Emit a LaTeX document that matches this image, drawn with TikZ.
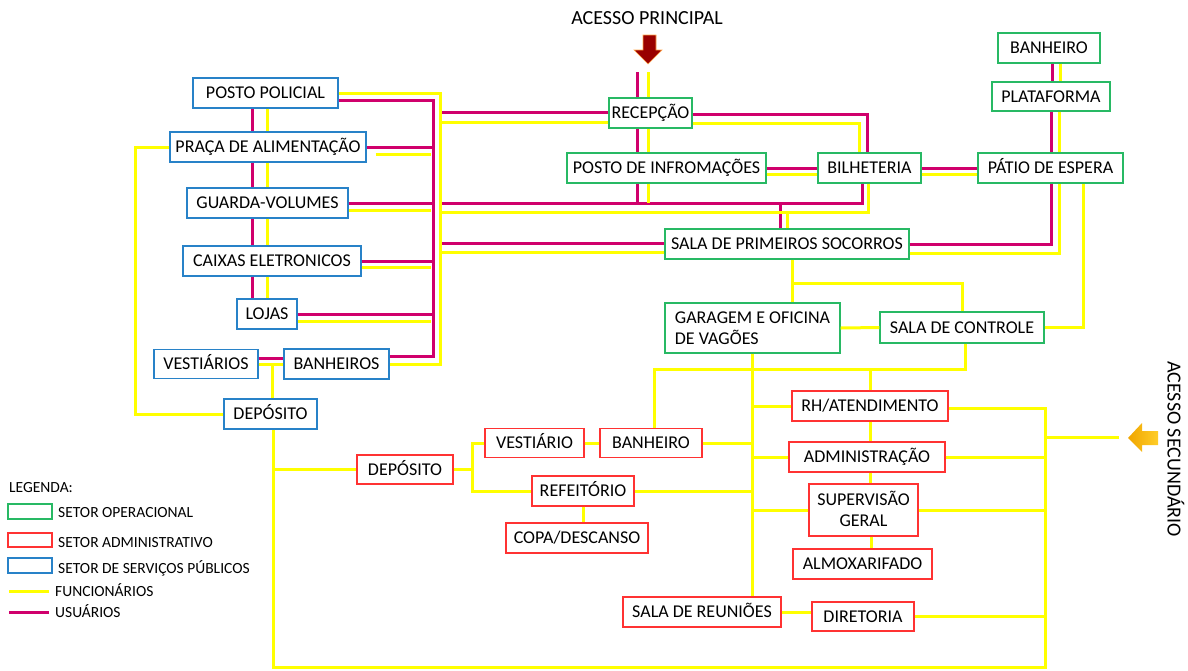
\documentclass[tikz,border=0pt]{standalone}
\usepackage{fontspec}
\setmainfont{Carlito}
\usepackage{xcolor}

\definecolor{usrmag}{RGB}{208,0,108}
\definecolor{funyel}{RGB}{255,255,0}
\definecolor{opgreen}{RGB}{40,185,100}
\definecolor{admred}{RGB}{255,50,50}
\definecolor{pubblue}{RGB}{40,130,200}
\definecolor{acc1col}{RGB}{153,0,0}
\definecolor{acc2a}{RGB}{240,165,0}
\definecolor{acc2b}{RGB}{255,205,40}

\begin{document}
\begin{tikzpicture}[x=1pt, y=-1pt,
    box/.style={draw, line width=1.3pt, inner sep=0pt, minimum height=30pt,
      text height=11.6pt, text depth=0pt, font=\fontsize{18}{21}\selectfont},
    op/.style={box, draw=opgreen},
    adm/.style={box, draw=admred},
    pub/.style={box, draw=pubblue},
    usr/.style={usrmag, line width=3pt},
    fun/.style={funyel, line width=3pt},
    legtxt/.style={anchor=west, inner sep=0pt, text height=10pt, text depth=0pt,
      font=\fontsize{15.5}{18}\selectfont}]
    \useasboundingbox (0,0) rectangle (1188,670);

    % servicos publicos
    \node[pub, minimum width=145pt] (pol) at (265.5,93) {POSTO POLICIAL};
    \node[pub, minimum width=196pt] (praca) at (268,147) {PRAÇA DE ALIMENTAÇÃO};
    \node[pub, minimum width=161pt] (guarda) at (267.5,203) {GUARDA-VOLUMES};
    \node[pub, minimum width=178pt] (caixas) at (272,261) {CAIXAS ELETRONICOS};
    \node[pub, minimum width=60pt] (lojas) at (267,314) {LOJAS};
    \node[pub, minimum width=104pt, minimum height=29pt] (vest) at (206,364) {VESTIÁRIOS};
    \node[pub, minimum width=105pt] (banh) at (336.5,364) {BANHEIROS};
    \node[pub, minimum width=93pt] (depb) at (270.5,414) {DEPÓSITO};

    % operacional
    \node[op, minimum width=83pt] (recep) at (650.5,113) {RECEPÇÃO};
    \node[op, minimum width=199pt] (info) at (666.5,168) {POSTO DE INFROMAÇÕES};
    \node[op, minimum width=103pt] (bilh) at (869.5,168) {BILHETERIA};
    \node[op, minimum width=145pt] (patio) at (1050.5,168) {PÁTIO DE ESPERA};
    \node[op, minimum width=118pt, minimum height=29pt] (plat) at (1051,96.5) {PLATAFORMA};
    \node[op, minimum width=102pt] (banhg) at (1049,48) {BANHEIRO};
    \node[op, minimum width=244pt] (sps) at (787,244) {SALA DE PRIMEIROS SOCORROS};
    \node[op, minimum width=175pt, minimum height=50pt, align=left, text height=32.6pt] (gar) at (752.5,328) {GARAGEM E OFICINA\\DE VAGÕES};
    \node[op, minimum width=164pt, minimum height=31pt] (ctrl) at (962,327.5) {SALA DE CONTROLE};

    % administrativo
    \node[adm, minimum width=156pt] (rh) at (870,406) {RH/ATENDIMENTO};
    \node[adm, minimum width=156pt] (admin) at (867,457) {ADMINISTRAÇÃO};
    \node[adm, minimum width=109pt, minimum height=52pt, align=center, text height=32.6pt] (sup) at (863.5,510) {SUPERVISÃO\\GERAL};
    \node[adm, minimum width=139pt] (alm) at (862.5,564) {ALMOXARIFADO};
    \node[adm, minimum width=102pt, minimum height=29pt] (dir) at (863,616.5) {DIRETORIA};
    \node[adm, minimum width=158pt] (reun) at (702,612) {SALA DE REUNIÕES};
    \node[adm, minimum width=102pt, minimum height=29pt] (banhr) at (651,443) {BANHEIRO};
    \node[adm, minimum width=99pt, minimum height=29pt] (vesr) at (534.5,443) {VESTIÁRIO};
    \node[adm, minimum width=96pt, minimum height=29pt] (depr) at (405,469.5) {DEPÓSITO};
    \node[adm, minimum width=102pt] (ref) at (583,491) {REFEITÓRIO};
    \node[adm, minimum width=142pt] (copa) at (577,538) {COPA/DESCANSO};

    % acessos
    \node[inner sep=0pt, text height=12.9pt, text depth=0pt, font=\fontsize{20}{24}\selectfont] (acc1) at (647,18.5) {ACESSO PRINCIPAL};
    \filldraw[fill=acc1col, draw=orange!70, line width=0.6pt] (643,35) -- (656,35) -- (656,50) -- (662,50) -- (648,64) -- (634,50) -- (643,50) -- cycle;
    \node[inner sep=0pt, text height=12.9pt, text depth=0pt, rotate=-90, font=\fontsize{20}{24}\selectfont] (acc2) at (1174,449) {ACESSO SECUNDÁRIO};
    \shade[left color=acc2a, right color=acc2b] (1128,438) -- (1142,423) -- (1142,431) -- (1158,431) -- (1158,445) -- (1142,445) -- (1142,452) -- cycle;
    \coordinate (acc2in) at (1119,437);

    % usuarios
    \draw[usr] ([yshift=-7pt]pol.east) -| (433,356) -- ([yshift=8pt]banh.east);
    \foreach \n in {praca,guarda,caixas,lojas}
      \draw[usr] (\n.east) -- (\n.east -| 433,0);
    \draw[usr] ([yshift=6pt]vest.east) -- ([yshift=6pt]banh.west);
    \draw[usr] (recep.north -| 637,0) -- ++(0,-25);
    \draw[usr] (recep.south -| 637,0) -- (info.north -| 637,0);
    \draw[usr] (info.south -| 637,0) -- (637,203);
    \draw[usr] ([yshift=1pt]recep.west) -- (442,112);
    \draw[usr] ([yshift=-1pt]recep.east) -| (bilh.north -| 867,0);
    \draw[usr] (info.east) -- (bilh.west);
    \draw[usr] (bilh.east) -- (patio.west);
    \draw[usr] (bilh.south -| 862,0) |- (442,203);
    \draw[usr] (sps.north -| 780,0) -- (780,203);
    \draw[usr] ([yshift=1pt]sps.west) -- (442,243);
    \draw[usr] (sps.east) -| (patio.south -| 1051,0);
    \draw[usr] (plat.south -| 1051,0) -- (patio.north -| 1051,0);
    \draw[usr] (banhg.south -| 1052,0) -- (plat.north -| 1052,0);

    % funcionarios
    \draw[fun] (pol.east) -| (440,364) -- (banh.east);
    \draw[fun] ([xshift=9pt,yshift=-7pt]praca.east) -- ([yshift=-7pt]praca.east -| 431,0);
    \foreach \n/\d in {guarda/7,caixas/6,lojas/7}
      \draw[fun] ([yshift=-\d pt]\n.east) -- ([yshift=-\d pt]\n.east -| 431,0);
    \foreach \a/\b in {pol/praca,praca/guarda,guarda/caixas,caixas/lojas}{
      \draw[usr] (\a.south -| 252,0) -- (\b.north -| 252,0);
      \draw[fun] (\a.south -| 267,0) -- (\b.north -| 267,0);
    }
    \draw[fun] (vest.east) -- (banh.west);
    \draw[fun] (vest.east -| 272,0) -- (depb.north -| 272,0);
    \draw[fun] (depb.west) -| (135,147) -- (praca.west);
    \draw[fun] (depb.south -| 273,0) -- (273,667) -| (1045,408) -- ([yshift=-2pt]rh.east);
    \draw[fun] (depr.west -| 273,0) -- (depr.west);
    \draw[fun] (recep.north -| 648,0) -- ++(0,-25);
    \draw[fun] (recep.south -| 648,0) -- (info.north -| 648,0);
    \draw[fun] (info.south -| 648,0) -- (648,203);
    \draw[fun] ([yshift=-9pt]recep.west) -- (440,122);
    \draw[fun] ([yshift=-10pt]recep.east) -| (bilh.north -| 859,0);
    \draw[fun] ([yshift=-6pt]info.east) -- ([yshift=-6pt]bilh.west);
    \draw[fun] ([yshift=-6pt]bilh.east) -- ([yshift=-6pt]patio.west);
    \draw[fun] (bilh.south -| 868,0) |- (440,212);
    \draw[fun] (sps.north -| 787,0) -- (787,212);
    \draw[fun] ([yshift=-8pt]sps.west) -- (440,252);
    \draw[fun] ([yshift=-9pt]sps.east) -| (patio.south -| 1059,0);
    \draw[fun] (plat.south -| 1059,0) -- (patio.north -| 1059,0);
    \draw[fun] (banhg.south -| 1060,0) -- (plat.north -| 1060,0);
    \draw[fun] (sps.south -| 792,0) -- (gar.north -| 792,0);
    \draw[fun] (792,283) -| (ctrl.north);
    \draw[fun] (gar.east) -- (ctrl.west);
    \draw[fun] (ctrl.east) -| (patio.south -| 1083,0);
    \draw[fun] (ctrl.south -| 965,0) |- (654,369) -- (banhr.north -| 654,0);
    \draw[fun] (rh.north) -- (870,369);
    \draw[fun] (gar.south) -- (gar.south |- reun.north);
    \foreach \n in {rh,admin,sup}
      \draw[fun] (\n.west -| gar.south) -- (\n.west);
    \draw[fun] (banhr.east) -- (banhr.east -| gar.south);
    \draw[fun] (ref.east) -- (ref.east -| gar.south);
    \draw[fun] (rh.south) -- (rh.south |- admin.north);
    \draw[fun] (admin.south -| 870,0) -- (sup.north -| 870,0);
    \draw[fun] (sup.south -| 871,0) -- (alm.north -| 871,0);
    \foreach \n in {admin,sup,dir}
      \draw[fun] (\n.east) -- (\n.east -| 1045,0);
    \draw[fun] (reun.east) -- (reun.east -| dir.west);
    \draw[fun] (acc2in -| 1045,0) -- (acc2in);
    \draw[fun] (depr.east) -- (depr.east -| 472,0);
    \draw[fun] (vesr.west) -| (472,491) -- (ref.west);
    \draw[fun] (vesr.east) -- (banhr.west);
    \draw[fun] (ref.south) -- (ref.south |- copa.north);

    % legenda
    \node[legtxt] (leg) at (9,487) {LEGENDA:};
    \draw[opgreen, line width=2.5pt] (8,504) rectangle (52,519);
    \node[legtxt] (legop) at (58,512) {SETOR OPERACIONAL};
    \draw[admred, line width=2.5pt] (8,533) rectangle (52,547);
    \node[legtxt] (legadm) at (58,542) {SETOR ADMINISTRATIVO};
    \draw[pubblue, line width=2.5pt] (8,558) rectangle (52,573);
    \node[legtxt] (legpub) at (58,568) {SETOR DE SERVIÇOS PÚBLICOS};
    \node[legtxt] (legfun) at (55,591) {FUNCIONÁRIOS};
    \draw[fun] ([xshift=-6pt]legfun.west) -- +(-40,0);
    \node[legtxt] (legusr) at (55,612) {USUÁRIOS};
    \draw[usr] ([xshift=-6pt]legusr.west) -- +(-40,0);
  \end{tikzpicture}
\end{document}
